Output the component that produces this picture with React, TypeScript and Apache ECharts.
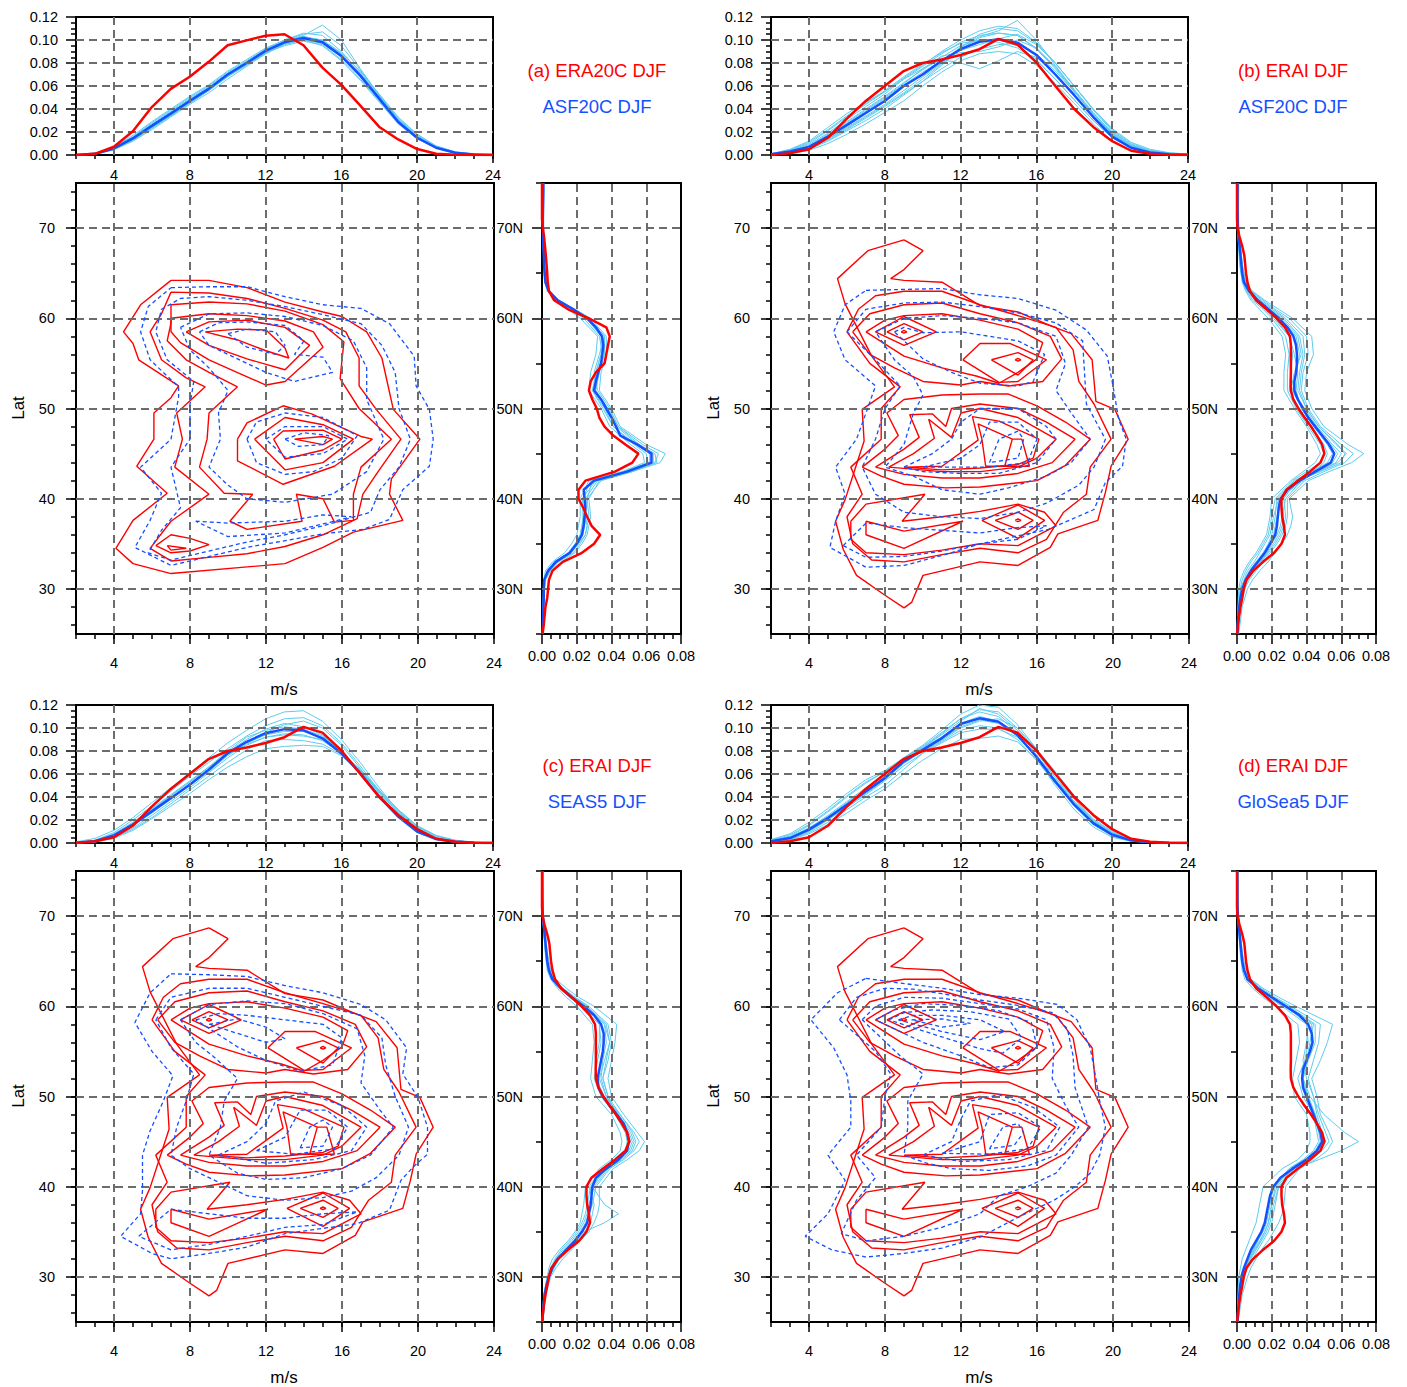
import React, { useEffect, useRef } from "react";
import * as echarts from "echarts";

// ---------- axes / categories ----------
const SPEED = [2, 3, 4, 5, 6, 7, 8, 9, 10, 11, 12, 13, 14, 15, 16, 17, 18, 19, 20, 21, 22, 23, 24];
const SPEED_MAJOR = [4, 8, 12, 16, 20, 24];
const SPEED_GRID = [4, 8, 12, 16, 20];
const PDF_GRID = [0.02, 0.04, 0.06, 0.08, 0.1];
const LAT = [25, 26, 27, 28, 29, 30, 31, 32, 33, 34, 35, 36, 37, 38, 39, 40, 41, 42, 43, 44, 45, 46, 47, 48, 49, 50,
  51, 52, 53, 54, 55, 56, 57, 58, 59, 60, 61, 62, 63, 64, 65, 66, 67, 68, 69, 70, 71, 72, 73, 74, 75];
const LAT_MAJOR = [30, 40, 50, 60, 70];
const LAT_MINOR_MAIN = [26, 28, 30, 32, 34, 36, 38, 40, 42, 44, 46, 48, 50, 52, 54, 56, 58, 60, 62, 64, 66, 68, 70, 72, 74];
const LAT_MINOR_SIDE = [25, 35, 45, 55, 65, 75];
const LATPDF_GRID = [0.02, 0.04, 0.06];
const LATM = [25, 28, 30, 31, 32, 33, 34, 35, 36, 37, 38, 40, 42, 43, 44, 45, 46, 48, 50, 52, 54, 56, 58, 60, 61, 62, 63, 64, 66, 70, 75];

// ---------- wind-speed PDFs (x = SPEED) ----------
const TOP_ERA20C = [0, 0.001, 0.0072, 0.0207, 0.0417, 0.0575, 0.068, 0.081, 0.0954, 0.0997, 0.1037, 0.105, 0.0954, 0.076, 0.061, 0.043, 0.0244, 0.0135, 0.0052, 0.0011, 0.0002, 0, 0];
const TOP_ERAI = [0, 0.0015, 0.005, 0.015, 0.0316, 0.047, 0.06, 0.073, 0.08, 0.083, 0.087, 0.092, 0.101, 0.096, 0.0805, 0.06, 0.04, 0.0244, 0.012, 0.0037, 0.001, 0.0003, 0];
const TOP_MEAN_A = [0, 0.001, 0.0057, 0.0144, 0.0253, 0.036, 0.047, 0.0575, 0.07, 0.08, 0.0905, 0.098, 0.1017, 0.098, 0.086, 0.069, 0.049, 0.0287, 0.015, 0.0063, 0.002, 0.0005, 0.0001];
const TOP_MEAN_B = [0.0006, 0.003, 0.007, 0.016, 0.026, 0.0365, 0.047, 0.06, 0.07, 0.082, 0.092, 0.0985, 0.1006, 0.0977, 0.087, 0.07, 0.052, 0.033, 0.016, 0.0063, 0.0022, 0.0007, 0.0002];
const TOP_MEAN_C = [0.0003, 0.0015, 0.0066, 0.016, 0.0275, 0.039, 0.0506, 0.0636, 0.078, 0.088, 0.0955, 0.099, 0.098, 0.091, 0.078, 0.0607, 0.04, 0.023, 0.01, 0.0035, 0.001, 0.0003, 0];
const TOP_MEAN_D = [0.0015, 0.0043, 0.0116, 0.0217, 0.0333, 0.0448, 0.0564, 0.0708, 0.081, 0.091, 0.1035, 0.1084, 0.1055, 0.094, 0.075, 0.0535, 0.0333, 0.0173, 0.0072, 0.0023, 0.0006, 0.0001, 0];
const TOP_MEM_A = [
  [0, 0.0015, 0.007, 0.017, 0.029, 0.04, 0.051, 0.061, 0.073, 0.083, 0.093, 0.1, 0.103, 0.099, 0.087, 0.07, 0.05, 0.03, 0.016, 0.007, 0.0025, 0.0007, 0.0002],
  [0, 0.0008, 0.0045, 0.012, 0.022, 0.033, 0.044, 0.054, 0.066, 0.077, 0.088, 0.096, 0.1, 0.097, 0.085, 0.068, 0.048, 0.028, 0.014, 0.0058, 0.0018, 0.0004, 0.0001],
  [0, 0.001, 0.0055, 0.014, 0.025, 0.036, 0.046, 0.056, 0.068, 0.079, 0.091, 0.099, 0.104, 0.113, 0.1, 0.075, 0.052, 0.031, 0.017, 0.007, 0.0025, 0.0006, 0.0001],
  [0, 0.0012, 0.006, 0.015, 0.026, 0.037, 0.048, 0.059, 0.071, 0.081, 0.089, 0.095, 0.099, 0.096, 0.083, 0.066, 0.047, 0.028, 0.015, 0.0065, 0.0022, 0.0006, 0.0001],
  [0, 0.0009, 0.005, 0.013, 0.024, 0.035, 0.046, 0.057, 0.07, 0.081, 0.092, 0.1, 0.106, 0.104, 0.09, 0.072, 0.052, 0.032, 0.018, 0.0075, 0.0025, 0.0007, 0.0002],
  [0, 0.0011, 0.0062, 0.0155, 0.027, 0.038, 0.049, 0.059, 0.07, 0.079, 0.088, 0.097, 0.102, 0.1, 0.088, 0.071, 0.051, 0.03, 0.0155, 0.0065, 0.002, 0.0005, 0.0001],
  [0, 0.0013, 0.0068, 0.016, 0.028, 0.039, 0.05, 0.06, 0.072, 0.082, 0.092, 0.099, 0.103, 0.1, 0.089, 0.073, 0.053, 0.033, 0.018, 0.008, 0.0028, 0.0008, 0.0002],
  [0, 0.0007, 0.0048, 0.0128, 0.023, 0.034, 0.045, 0.056, 0.068, 0.078, 0.089, 0.097, 0.101, 0.099, 0.088, 0.07, 0.05, 0.029, 0.015, 0.0062, 0.002, 0.0005, 0.0001],
  [0, 0.001, 0.0058, 0.0148, 0.026, 0.037, 0.048, 0.058, 0.069, 0.079, 0.09, 0.1, 0.105, 0.107, 0.095, 0.074, 0.052, 0.031, 0.016, 0.0068, 0.0022, 0.0006, 0.0001],
  [0, 0.0009, 0.0052, 0.0135, 0.024, 0.034, 0.045, 0.056, 0.069, 0.08, 0.091, 0.097, 0.1, 0.095, 0.082, 0.065, 0.046, 0.027, 0.014, 0.006, 0.0019, 0.0005, 0.0001],
];
const TOP_MEM_B = [
  [0.001, 0.004, 0.01, 0.021, 0.033, 0.044, 0.055, 0.067, 0.078, 0.09, 0.1, 0.108, 0.112, 0.11, 0.098, 0.08, 0.06, 0.04, 0.022, 0.01, 0.004, 0.0015, 0.0005],
  [0.0003, 0.0015, 0.004, 0.01, 0.018, 0.027, 0.037, 0.047, 0.06, 0.072, 0.082, 0.088, 0.09, 0.088, 0.078, 0.062, 0.045, 0.027, 0.012, 0.004, 0.001, 0.0003, 0],
  [0.0005, 0.002, 0.006, 0.014, 0.024, 0.034, 0.044, 0.056, 0.068, 0.08, 0.094, 0.103, 0.108, 0.117, 0.1, 0.078, 0.056, 0.035, 0.018, 0.007, 0.0025, 0.0008, 0.0002],
  [0.001, 0.005, 0.012, 0.024, 0.036, 0.046, 0.055, 0.066, 0.075, 0.083, 0.08, 0.075, 0.082, 0.09, 0.085, 0.07, 0.052, 0.033, 0.017, 0.007, 0.0025, 0.0007, 0.0002],
  [0.0004, 0.0015, 0.005, 0.012, 0.021, 0.03, 0.04, 0.052, 0.064, 0.078, 0.092, 0.102, 0.106, 0.104, 0.093, 0.076, 0.056, 0.036, 0.02, 0.009, 0.004, 0.0018, 0.0008],
  [0.0008, 0.003, 0.008, 0.018, 0.029, 0.04, 0.051, 0.063, 0.074, 0.085, 0.095, 0.1, 0.098, 0.093, 0.082, 0.066, 0.048, 0.03, 0.015, 0.0055, 0.0018, 0.0005, 0.0001],
  [0.0006, 0.0025, 0.007, 0.016, 0.027, 0.038, 0.049, 0.061, 0.072, 0.082, 0.091, 0.096, 0.101, 0.105, 0.096, 0.08, 0.06, 0.039, 0.021, 0.009, 0.003, 0.001, 0.0003],
  [0.0007, 0.0035, 0.009, 0.019, 0.031, 0.042, 0.053, 0.066, 0.077, 0.088, 0.098, 0.104, 0.106, 0.104, 0.092, 0.075, 0.055, 0.035, 0.018, 0.008, 0.003, 0.001, 0.0003],
  [0.0004, 0.002, 0.0055, 0.013, 0.022, 0.032, 0.042, 0.053, 0.064, 0.075, 0.085, 0.092, 0.096, 0.097, 0.088, 0.073, 0.055, 0.036, 0.019, 0.008, 0.003, 0.001, 0.0003],
  [0.0009, 0.0045, 0.011, 0.022, 0.034, 0.045, 0.056, 0.068, 0.079, 0.089, 0.097, 0.1, 0.1, 0.095, 0.083, 0.066, 0.048, 0.03, 0.015, 0.006, 0.002, 0.0006, 0.0001],
  [0.0005, 0.002, 0.006, 0.014, 0.023, 0.033, 0.043, 0.054, 0.066, 0.079, 0.093, 0.105, 0.11, 0.108, 0.097, 0.08, 0.06, 0.04, 0.023, 0.011, 0.005, 0.002, 0.0008],
  [0.0006, 0.0028, 0.0075, 0.017, 0.028, 0.039, 0.05, 0.062, 0.075, 0.086, 0.089, 0.09, 0.094, 0.1, 0.093, 0.077, 0.057, 0.037, 0.019, 0.008, 0.0028, 0.0009, 0.0003],
];
const TOP_MEM_C = [
  [0.001, 0.004, 0.011, 0.022, 0.035, 0.048, 0.061, 0.074, 0.087, 0.098, 0.108, 0.114, 0.115, 0.106, 0.09, 0.07, 0.048, 0.028, 0.013, 0.005, 0.0015, 0.0004, 0.0001],
  [0, 0.0008, 0.004, 0.011, 0.021, 0.032, 0.043, 0.055, 0.066, 0.075, 0.082, 0.084, 0.085, 0.084, 0.076, 0.062, 0.044, 0.027, 0.013, 0.005, 0.0015, 0.0004, 0.0001],
  [0.0005, 0.002, 0.008, 0.018, 0.03, 0.042, 0.054, 0.066, 0.077, 0.087, 0.096, 0.103, 0.106, 0.1, 0.085, 0.065, 0.043, 0.024, 0.011, 0.004, 0.001, 0.0003, 0],
  [0.0002, 0.001, 0.005, 0.013, 0.024, 0.036, 0.048, 0.061, 0.074, 0.085, 0.092, 0.095, 0.094, 0.089, 0.078, 0.063, 0.045, 0.028, 0.014, 0.006, 0.002, 0.0006, 0.0001],
  [0.0004, 0.002, 0.007, 0.017, 0.029, 0.041, 0.053, 0.065, 0.079, 0.09, 0.099, 0.104, 0.101, 0.094, 0.08, 0.062, 0.041, 0.022, 0.009, 0.003, 0.0008, 0.0002, 0],
  [0.0003, 0.0012, 0.006, 0.015, 0.026, 0.038, 0.05, 0.062, 0.076, 0.086, 0.092, 0.094, 0.093, 0.09, 0.079, 0.064, 0.046, 0.029, 0.015, 0.0065, 0.0025, 0.0008, 0.0002],
  [0.0006, 0.0025, 0.009, 0.02, 0.032, 0.045, 0.058, 0.07, 0.082, 0.093, 0.102, 0.108, 0.109, 0.102, 0.087, 0.067, 0.045, 0.026, 0.012, 0.0045, 0.0012, 0.0003, 0],
  [0.0002, 0.001, 0.0045, 0.012, 0.022, 0.034, 0.046, 0.058, 0.07, 0.081, 0.089, 0.09, 0.089, 0.086, 0.077, 0.063, 0.046, 0.029, 0.015, 0.0065, 0.0022, 0.0006, 0.0001],
  [0.0004, 0.0018, 0.0075, 0.017, 0.029, 0.041, 0.053, 0.066, 0.08, 0.092, 0.098, 0.101, 0.099, 0.093, 0.08, 0.062, 0.042, 0.024, 0.011, 0.004, 0.0012, 0.0003, 0],
  [0.0003, 0.0014, 0.006, 0.0155, 0.027, 0.039, 0.051, 0.064, 0.077, 0.087, 0.094, 0.097, 0.097, 0.092, 0.08, 0.063, 0.044, 0.026, 0.012, 0.0045, 0.0014, 0.0004, 0],
];
const TOP_MEM_D = [
  [0.003, 0.008, 0.018, 0.03, 0.043, 0.055, 0.063, 0.074, 0.085, 0.098, 0.112, 0.12, 0.118, 0.103, 0.082, 0.06, 0.038, 0.02, 0.009, 0.003, 0.0008, 0.0002, 0],
  [0.0008, 0.0025, 0.008, 0.016, 0.026, 0.037, 0.047, 0.06, 0.072, 0.082, 0.09, 0.091, 0.093, 0.088, 0.073, 0.055, 0.036, 0.02, 0.009, 0.003, 0.0008, 0.0002, 0],
  [0.002, 0.006, 0.015, 0.027, 0.04, 0.052, 0.062, 0.072, 0.083, 0.095, 0.108, 0.114, 0.11, 0.096, 0.074, 0.05, 0.029, 0.014, 0.005, 0.0015, 0.0004, 0.0001, 0],
  [0.001, 0.003, 0.009, 0.018, 0.029, 0.04, 0.05, 0.064, 0.078, 0.089, 0.1, 0.106, 0.108, 0.1, 0.082, 0.062, 0.041, 0.023, 0.011, 0.004, 0.001, 0.0003, 0],
  [0.0015, 0.004, 0.011, 0.021, 0.033, 0.045, 0.058, 0.071, 0.08, 0.088, 0.098, 0.102, 0.1, 0.09, 0.072, 0.052, 0.033, 0.018, 0.008, 0.003, 0.0008, 0.0002, 0],
  [0.002, 0.005, 0.013, 0.024, 0.036, 0.048, 0.059, 0.073, 0.083, 0.094, 0.106, 0.117, 0.112, 0.098, 0.077, 0.054, 0.033, 0.016, 0.006, 0.002, 0.0005, 0.0001, 0],
  [0.0025, 0.007, 0.016, 0.028, 0.041, 0.053, 0.062, 0.074, 0.084, 0.096, 0.108, 0.116, 0.114, 0.1, 0.079, 0.057, 0.036, 0.019, 0.008, 0.0028, 0.0008, 0.0002, 0],
  [0.001, 0.0035, 0.01, 0.02, 0.031, 0.042, 0.054, 0.067, 0.078, 0.087, 0.096, 0.099, 0.099, 0.092, 0.076, 0.057, 0.038, 0.021, 0.01, 0.0035, 0.001, 0.0002, 0],
  [0.0018, 0.005, 0.013, 0.023, 0.035, 0.047, 0.06, 0.074, 0.083, 0.092, 0.104, 0.11, 0.106, 0.094, 0.074, 0.052, 0.032, 0.016, 0.007, 0.0022, 0.0006, 0.0001, 0],
  [0.0012, 0.0038, 0.0105, 0.02, 0.032, 0.043, 0.055, 0.069, 0.08, 0.09, 0.101, 0.107, 0.104, 0.093, 0.075, 0.055, 0.035, 0.019, 0.0085, 0.003, 0.0008, 0.0002, 0],
];

// ---------- latitude PDFs (y = LAT) ----------
const RIGHT_ERA20C = [0.0003, 0.001, 0.0015, 0.002, 0.003, 0.0035, 0.004, 0.006, 0.012, 0.023, 0.03, 0.0335, 0.0285, 0.026, 0.0237, 0.021, 0.021, 0.025, 0.042, 0.052, 0.0555, 0.048, 0.041, 0.036, 0.033, 0.0315,
  0.029, 0.027, 0.028, 0.031, 0.036, 0.037, 0.038, 0.039, 0.037, 0.027, 0.015, 0.007, 0.004, 0.0033, 0.003, 0.0026, 0.0022, 0.0017, 0.0012, 0.0005, 0, 0, 0, 0, 0];
const RIGHT_ERAI = [0, 0.0006, 0.0012, 0.002, 0.003, 0.0039, 0.0054, 0.0093, 0.015, 0.0214, 0.0256, 0.0276, 0.027, 0.026, 0.0256, 0.0256, 0.0285, 0.035, 0.042, 0.048, 0.0503, 0.049, 0.046, 0.0426, 0.0388, 0.0353,
  0.0324, 0.031, 0.0309, 0.031, 0.031, 0.031, 0.031, 0.0305, 0.0276, 0.0228, 0.017, 0.011, 0.0075, 0.006, 0.0052, 0.0047, 0.0042, 0.003, 0.0015, 0.0003, 0, 0, 0, 0, 0];
const RIGHT_MEAN_A = [0.0003, 0.0005, 0.0007, 0.0008, 0.001, 0.001, 0.0013, 0.0035, 0.008, 0.016, 0.02, 0.023, 0.024, 0.0245, 0.025, 0.0245, 0.024, 0.03, 0.049, 0.063, 0.063, 0.055, 0.045, 0.0426, 0.04, 0.037,
  0.034, 0.03, 0.031, 0.0324, 0.034, 0.0347, 0.0353, 0.0345, 0.031, 0.026, 0.018, 0.009, 0.004, 0.002, 0.0015, 0.0012, 0.001, 0.0008, 0.0006, 0.0005, 0.0005, 0.0006, 0.0007, 0.0008, 0.0008];
const RIGHT_MEAN_B = [0.0003, 0.0004, 0.0008, 0.0013, 0.002, 0.003, 0.005, 0.008, 0.012, 0.016, 0.019, 0.022, 0.023, 0.0235, 0.024, 0.025, 0.029, 0.036, 0.045, 0.054, 0.056, 0.053, 0.049, 0.045, 0.041, 0.038,
  0.035, 0.033, 0.033, 0.034, 0.0345, 0.0345, 0.034, 0.0325, 0.029, 0.024, 0.018, 0.012, 0.007, 0.004, 0.003, 0.0025, 0.002, 0.0015, 0.001, 0.0005, 0.0004, 0.0003, 0.0003, 0.0003, 0.0003];
const RIGHT_MEAN_C = [0.0003, 0.0005, 0.001, 0.0015, 0.0025, 0.004, 0.006, 0.009, 0.014, 0.019, 0.023, 0.026, 0.027, 0.028, 0.0285, 0.029, 0.031, 0.037, 0.044, 0.049, 0.05, 0.049, 0.047, 0.043, 0.039, 0.035,
  0.0325, 0.032, 0.033, 0.034, 0.035, 0.0355, 0.0355, 0.034, 0.03, 0.024, 0.017, 0.011, 0.006, 0.004, 0.003, 0.0025, 0.002, 0.0015, 0.001, 0.0005, 0.0003, 0.0002, 0.0002, 0.0002, 0.0002];
const RIGHT_MEAN_D = [0.0003, 0.0006, 0.001, 0.0013, 0.0018, 0.0025, 0.004, 0.006, 0.008, 0.011, 0.014, 0.016, 0.017, 0.018, 0.019, 0.021, 0.025, 0.032, 0.04, 0.046, 0.049, 0.048, 0.046, 0.044, 0.042, 0.04,
  0.038, 0.0375, 0.038, 0.04, 0.042, 0.0435, 0.043, 0.041, 0.036, 0.028, 0.02, 0.012, 0.006, 0.004, 0.003, 0.0025, 0.002, 0.0015, 0.001, 0.0005, 0.0003, 0.0002, 0.0002, 0.0002, 0.0002];
const RIGHT_MEM_A = [
  [0.0005, 0.001, 0.0015, 0.002, 0.005, 0.011, 0.019, 0.023, 0.026, 0.027, 0.028, 0.027, 0.033, 0.052, 0.068, 0.071, 0.06, 0.045, 0.04, 0.033, 0.034, 0.037, 0.037, 0.028, 0.019, 0.01, 0.004, 0.0025, 0.0015, 0.0007, 0.001],
  [0.0002, 0.0005, 0.0008, 0.001, 0.002, 0.006, 0.013, 0.017, 0.02, 0.021, 0.022, 0.022, 0.027, 0.046, 0.059, 0.058, 0.051, 0.039, 0.034, 0.027, 0.028, 0.031, 0.032, 0.022, 0.015, 0.008, 0.003, 0.0015, 0.001, 0.0004, 0.0006],
  [0.0004, 0.0009, 0.0012, 0.0015, 0.004, 0.009, 0.017, 0.021, 0.025, 0.026, 0.025, 0.023, 0.031, 0.05, 0.066, 0.065, 0.056, 0.044, 0.039, 0.032, 0.03, 0.033, 0.036, 0.027, 0.018, 0.0095, 0.0038, 0.002, 0.0013, 0.0006, 0.0009],
  [0.0003, 0.0007, 0.001, 0.0012, 0.003, 0.007, 0.015, 0.019, 0.022, 0.023, 0.024, 0.026, 0.029, 0.047, 0.061, 0.06, 0.053, 0.041, 0.035, 0.029, 0.032, 0.035, 0.033, 0.024, 0.016, 0.0085, 0.0032, 0.0018, 0.0011, 0.0005, 0.0007],
  [0.0004, 0.0008, 0.0011, 0.0014, 0.0045, 0.0095, 0.018, 0.022, 0.025, 0.026, 0.027, 0.026, 0.034, 0.052, 0.065, 0.067, 0.058, 0.044, 0.038, 0.031, 0.033, 0.036, 0.036, 0.027, 0.0185, 0.0095, 0.0038, 0.002, 0.0013, 0.0006, 0.0008],
  [0.0003, 0.0007, 0.0009, 0.0011, 0.003, 0.0075, 0.0155, 0.0195, 0.022, 0.023, 0.0235, 0.0235, 0.028, 0.047, 0.062, 0.062, 0.054, 0.041, 0.036, 0.029, 0.031, 0.034, 0.034, 0.0255, 0.0172, 0.009, 0.0035, 0.0019, 0.0012, 0.0005, 0.0008],
  [0.0003, 0.0008, 0.001, 0.0013, 0.0038, 0.0085, 0.0165, 0.0205, 0.0235, 0.0245, 0.0255, 0.025, 0.032, 0.05, 0.064, 0.064, 0.055, 0.043, 0.037, 0.03, 0.031, 0.034, 0.035, 0.026, 0.0175, 0.009, 0.0036, 0.002, 0.0012, 0.0005, 0.0008],
];
const RIGHT_MEM_B = [
  [0.001, 0.003, 0.006, 0.009, 0.013, 0.018, 0.022, 0.026, 0.029, 0.031, 0.032, 0.03, 0.041, 0.053, 0.066, 0.073, 0.064, 0.05, 0.043, 0.039, 0.04, 0.044, 0.043, 0.032, 0.024, 0.016, 0.009, 0.005, 0.003, 0.001, 0.0008],
  [0, 0.0005, 0.001, 0.002, 0.004, 0.007, 0.011, 0.014, 0.017, 0.018, 0.019, 0.02, 0.031, 0.038, 0.045, 0.048, 0.046, 0.04, 0.033, 0.027, 0.027, 0.028, 0.026, 0.018, 0.013, 0.008, 0.005, 0.003, 0.0015, 0.0003, 0],
  [0.0005, 0.002, 0.004, 0.006, 0.01, 0.014, 0.018, 0.022, 0.025, 0.027, 0.028, 0.027, 0.034, 0.048, 0.06, 0.062, 0.058, 0.047, 0.04, 0.035, 0.036, 0.038, 0.036, 0.027, 0.02, 0.013, 0.008, 0.0045, 0.0028, 0.0008, 0.001],
  [0.0002, 0.001, 0.002, 0.004, 0.006, 0.01, 0.013, 0.016, 0.019, 0.02, 0.021, 0.024, 0.038, 0.044, 0.05, 0.052, 0.05, 0.043, 0.036, 0.03, 0.031, 0.032, 0.03, 0.021, 0.016, 0.01, 0.006, 0.0035, 0.002, 0.0004, 0.0002],
  [0.0004, 0.0015, 0.0035, 0.0055, 0.009, 0.013, 0.017, 0.02, 0.023, 0.025, 0.026, 0.028, 0.037, 0.046, 0.057, 0.06, 0.055, 0.046, 0.039, 0.031, 0.033, 0.037, 0.035, 0.026, 0.019, 0.012, 0.0075, 0.004, 0.0025, 0.0006, 0.0005],
  [0.0002, 0.001, 0.0025, 0.0045, 0.007, 0.011, 0.015, 0.018, 0.02, 0.021, 0.022, 0.023, 0.033, 0.043, 0.052, 0.055, 0.052, 0.044, 0.037, 0.034, 0.035, 0.033, 0.03, 0.022, 0.017, 0.011, 0.0065, 0.0035, 0.002, 0.0004, 0.0003],
  [0.0006, 0.002, 0.0045, 0.007, 0.011, 0.015, 0.019, 0.023, 0.026, 0.028, 0.029, 0.029, 0.039, 0.05, 0.062, 0.067, 0.06, 0.048, 0.041, 0.037, 0.038, 0.041, 0.04, 0.03, 0.022, 0.015, 0.0085, 0.0048, 0.003, 0.0009, 0.0007],
  [0.0001, 0.0008, 0.0018, 0.003, 0.005, 0.008, 0.012, 0.015, 0.018, 0.019, 0.02, 0.022, 0.032, 0.04, 0.048, 0.05, 0.048, 0.041, 0.034, 0.029, 0.029, 0.03, 0.028, 0.02, 0.015, 0.009, 0.0055, 0.0032, 0.0018, 0.0003, 0.0001],
  [0.0003, 0.0012, 0.003, 0.005, 0.008, 0.012, 0.016, 0.019, 0.021, 0.022, 0.023, 0.026, 0.035, 0.045, 0.055, 0.058, 0.054, 0.045, 0.038, 0.032, 0.034, 0.036, 0.034, 0.025, 0.018, 0.012, 0.007, 0.004, 0.0024, 0.0005, 0.0004],
  [0.0004, 0.0016, 0.0038, 0.006, 0.0095, 0.0135, 0.0175, 0.021, 0.024, 0.026, 0.027, 0.025, 0.036, 0.047, 0.058, 0.063, 0.057, 0.047, 0.04, 0.036, 0.037, 0.039, 0.038, 0.028, 0.021, 0.014, 0.008, 0.0045, 0.0028, 0.0007, 0.0006],
];
const RIGHT_MEM_C = [
  [0.0005, 0.002, 0.005, 0.008, 0.012, 0.017, 0.022, 0.027, 0.03, 0.032, 0.033, 0.033, 0.041, 0.049, 0.056, 0.059, 0.055, 0.047, 0.04, 0.038, 0.04, 0.042, 0.043, 0.03, 0.021, 0.014, 0.008, 0.005, 0.003, 0.0008, 0.0004],
  [0.0001, 0.001, 0.003, 0.004, 0.006, 0.01, 0.015, 0.019, 0.022, 0.023, 0.024, 0.025, 0.033, 0.04, 0.045, 0.046, 0.045, 0.04, 0.031, 0.028, 0.029, 0.03, 0.029, 0.02, 0.014, 0.009, 0.005, 0.003, 0.0018, 0.0003, 0.0001],
  [0.0003, 0.0015, 0.004, 0.006, 0.009, 0.013, 0.018, 0.024, 0.036, 0.044, 0.036, 0.029, 0.036, 0.043, 0.05, 0.052, 0.05, 0.044, 0.037, 0.033, 0.036, 0.039, 0.036, 0.025, 0.018, 0.012, 0.0065, 0.004, 0.0025, 0.0005, 0.0002],
  [0.0002, 0.0012, 0.0035, 0.0055, 0.008, 0.012, 0.017, 0.021, 0.024, 0.026, 0.027, 0.03, 0.038, 0.046, 0.052, 0.054, 0.052, 0.045, 0.036, 0.031, 0.031, 0.033, 0.033, 0.023, 0.016, 0.01, 0.0055, 0.0035, 0.002, 0.0004, 0.0002],
  [0.0003, 0.0018, 0.0045, 0.007, 0.01, 0.015, 0.02, 0.025, 0.028, 0.029, 0.03, 0.027, 0.035, 0.042, 0.048, 0.051, 0.049, 0.043, 0.038, 0.035, 0.038, 0.04, 0.038, 0.027, 0.019, 0.012, 0.007, 0.0042, 0.0026, 0.0006, 0.0003],
  [0.0004, 0.0016, 0.0042, 0.0065, 0.0095, 0.014, 0.019, 0.023, 0.026, 0.027, 0.028, 0.029, 0.037, 0.045, 0.051, 0.053, 0.051, 0.044, 0.037, 0.034, 0.035, 0.037, 0.036, 0.026, 0.018, 0.011, 0.0065, 0.004, 0.0024, 0.0005, 0.0002],
  [0.0002, 0.001, 0.003, 0.005, 0.0075, 0.011, 0.016, 0.02, 0.023, 0.025, 0.026, 0.028, 0.035, 0.043, 0.048, 0.049, 0.048, 0.042, 0.034, 0.03, 0.032, 0.034, 0.033, 0.022, 0.016, 0.01, 0.0055, 0.0035, 0.002, 0.0004, 0.0002],
  [0.0003, 0.0014, 0.0038, 0.006, 0.009, 0.013, 0.018, 0.022, 0.025, 0.027, 0.029, 0.031, 0.039, 0.047, 0.053, 0.056, 0.053, 0.045, 0.038, 0.035, 0.037, 0.039, 0.037, 0.026, 0.019, 0.012, 0.007, 0.004, 0.0025, 0.0005, 0.0002],
];
const RIGHT_MEM_D = [
  [0.0006, 0.003, 0.006, 0.008, 0.011, 0.014, 0.018, 0.021, 0.024, 0.026, 0.027, 0.028, 0.036, 0.045, 0.052, 0.055, 0.053, 0.048, 0.046, 0.043, 0.048, 0.052, 0.055, 0.034, 0.024, 0.015, 0.008, 0.005, 0.003, 0.0008, 0.0005],
  [0.0001, 0.0005, 0.001, 0.002, 0.003, 0.005, 0.007, 0.009, 0.011, 0.012, 0.013, 0.015, 0.026, 0.035, 0.04, 0.042, 0.042, 0.04, 0.033, 0.032, 0.034, 0.036, 0.035, 0.022, 0.015, 0.009, 0.0045, 0.003, 0.0018, 0.0003, 0.0001],
  [0.0004, 0.002, 0.004, 0.006, 0.008, 0.011, 0.014, 0.017, 0.019, 0.02, 0.021, 0.024, 0.034, 0.047, 0.06, 0.07, 0.062, 0.05, 0.042, 0.038, 0.041, 0.045, 0.045, 0.03, 0.021, 0.013, 0.007, 0.0045, 0.0028, 0.0006, 0.0003],
  [0.0002, 0.001, 0.0025, 0.004, 0.006, 0.009, 0.012, 0.014, 0.016, 0.017, 0.018, 0.02, 0.03, 0.038, 0.044, 0.047, 0.046, 0.044, 0.038, 0.035, 0.039, 0.041, 0.04, 0.026, 0.018, 0.011, 0.006, 0.0038, 0.0023, 0.0004, 0.0002],
  [0.0003, 0.0015, 0.0035, 0.005, 0.007, 0.01, 0.013, 0.016, 0.018, 0.019, 0.02, 0.022, 0.031, 0.04, 0.046, 0.051, 0.049, 0.046, 0.044, 0.04, 0.038, 0.04, 0.041, 0.028, 0.02, 0.012, 0.0065, 0.004, 0.0025, 0.0005, 0.0003],
  [0.0004, 0.0018, 0.004, 0.006, 0.009, 0.012, 0.015, 0.018, 0.02, 0.021, 0.022, 0.024, 0.033, 0.043, 0.049, 0.053, 0.051, 0.047, 0.044, 0.041, 0.044, 0.047, 0.048, 0.031, 0.022, 0.014, 0.0075, 0.0045, 0.0027, 0.0006, 0.0003],
  [0.0002, 0.0012, 0.003, 0.0045, 0.0065, 0.0095, 0.012, 0.015, 0.017, 0.018, 0.019, 0.021, 0.03, 0.039, 0.045, 0.048, 0.047, 0.045, 0.041, 0.037, 0.04, 0.043, 0.043, 0.027, 0.019, 0.012, 0.0065, 0.004, 0.0024, 0.0005, 0.0002],
  [0.0003, 0.0015, 0.0035, 0.005, 0.0075, 0.0105, 0.0135, 0.016, 0.018, 0.019, 0.02, 0.023, 0.032, 0.041, 0.047, 0.05, 0.048, 0.045, 0.041, 0.038, 0.04, 0.042, 0.044, 0.029, 0.02, 0.013, 0.007, 0.0042, 0.0025, 0.0005, 0.0003],
];

// ---------- joint PDF contours: [wind speed m/s, latitude] ----------
const CONT_ERA20C = [
  [[7.0, 64.2], [9.0, 64.2], [11.0, 63.4], [13.0, 61.8], [15.0, 60.7], [16.0, 60.2], [17.3, 58.5], [18.1, 55.6], [18.7, 49.9], [20.1, 46.6], [18.6, 42.2], [18.5, 40.5], [19.2, 37.6], [16.6, 36.3], [15.0, 34.6], [13.0, 32.8], [7.0, 31.7], [5.0, 32.8], [4.1, 34.5], [5.0, 37.6], [6.8, 40.6], [5.2, 43.6], [6.1, 46.6], [6.1, 49.5], [7.0, 51.2], [7.4, 52.5], [5.3, 55.4], [5.0, 57.2], [4.5, 58.5], [5.4, 61.5], [7.0, 64.2]],
  [[7.0, 62.9], [9.0, 62.8], [11.0, 62.2], [13.0, 61.1], [15.0, 59.8], [16.2, 58.5], [16.9, 55.6], [16.9, 52.5], [17.8, 49.9], [19.1, 46.6], [17.9, 43.0], [17.1, 40.5], [16.8, 37.8], [15.0, 36.0], [13.0, 34.7], [11.0, 33.9], [9.0, 33.5], [7.0, 33.1], [5.9, 34.5], [7.0, 37.5], [9.0, 40.5], [7.2, 43.5], [7.6, 46.6], [7.3, 49.5], [8.8, 52.4], [7.8, 53.4], [6.5, 55.4], [5.9, 58.5], [6.5, 60.5], [7.0, 62.9]],
  [[7.0, 61.5], [9.0, 61.8], [11.0, 61.6], [13.0, 60.8], [15.0, 59.3], [16.1, 57.4], [15.9, 53.3], [16.9, 50.0], [18.6, 46.6], [17.0, 43.5], [16.6, 40.5], [16.6, 37.6], [15.6, 37.4], [15.0, 40.0], [13.6, 40.5], [13.9, 37.5], [11.0, 36.6], [10.1, 37.5], [11.3, 40.5], [9.8, 40.6], [8.5, 43.5], [8.9, 46.6], [9.0, 49.5], [10.5, 52.4], [9.0, 54.0], [7.8, 55.4], [6.8, 57.5], [7.0, 59.5], [7.0, 61.5]],
  [[7.0, 60.0], [9.0, 60.5], [11.0, 60.3], [13.0, 59.7], [14.5, 58.5], [15.0, 56.8], [13.0, 53.0], [12.0, 52.6], [10.8, 53.7], [9.0, 55.4], [7.5, 57.3], [7.0, 58.5], [7.0, 60.0]],
  [[7.8, 58.5], [9.0, 59.6], [11.0, 59.8], [13.0, 59.0], [14.3, 57.0], [13.0, 54.3], [11.0, 55.5], [9.0, 57.0], [7.8, 58.5]],
  [[8.8, 58.5], [10.5, 58.8], [12.0, 58.7], [13.0, 56.7], [13.2, 55.6], [12.0, 56.4], [10.5, 57.6], [8.8, 58.5]],
  [[10.5, 46.6], [11.0, 48.4], [12.9, 50.3], [14.4, 49.4], [17.0, 46.9], [17.6, 46.6], [15.6, 43.6], [12.9, 41.6], [10.5, 44.2], [10.5, 46.6]],
  [[11.4, 46.6], [13.0, 49.0], [15.0, 48.2], [16.6, 46.6], [15.0, 44.0], [13.0, 43.2], [11.4, 46.6]],
  [[12.4, 46.6], [12.9, 47.5], [15.0, 47.6], [16.0, 46.6], [15.0, 45.4], [13.0, 44.4], [12.4, 46.6]],
  [[13.5, 46.6], [15.0, 46.9], [15.5, 46.6], [15.0, 46.0], [13.5, 46.6]],
  [[6.2, 34.8], [7.0, 36.0], [8.0, 35.6], [9.0, 34.9], [8.0, 34.2], [7.0, 34.0], [6.2, 34.8]],
  [[6.8, 34.8], [7.8, 34.5], [7.0, 34.3], [6.8, 34.8]],
];
const CONT_ERAI = [
  [[9.0, 68.7], [10.0, 67.5], [9.0, 65.4], [8.3, 64.4], [9.0, 64.2], [11.0, 64.0], [13.0, 61.4], [15.0, 60.7], [16.8, 59.1], [17.8, 58.3], [18.9, 55.4], [19.1, 50.8], [20.1, 49.9], [20.8, 46.6], [19.9, 43.6], [19.6, 40.7], [19.2, 37.6], [17.1, 36.1], [16.7, 34.6], [15.0, 32.6], [13.0, 33.0], [10.0, 31.5], [9.4, 28.5], [9.0, 27.9], [8.0, 29.3], [6.5, 31.5], [5.8, 34.4], [5.4, 37.5], [5.9, 39.9], [6.5, 43.8], [6.9, 46.4], [6.8, 49.9], [8.5, 52.4], [7.3, 55.8], [5.9, 61.6], [5.5, 64.4], [7.1, 67.5], [9.0, 68.7]],
  [[6.0, 58.5], [6.6, 61.0], [7.5, 62.5], [9.0, 63.0], [11.0, 63.0], [13.0, 61.5], [15.0, 60.3], [17.0, 59.0], [17.9, 56.5], [18.2, 53.0], [19.0, 50.5], [19.9, 46.6], [18.8, 43.5], [18.6, 40.5], [17.4, 38.5], [16.5, 35.5], [15.0, 34.0], [13.0, 34.5], [11.0, 33.8], [9.0, 33.0], [7.3, 33.2], [6.3, 35.0], [6.0, 38.0], [6.8, 40.5], [6.2, 43.5], [7.8, 46.6], [7.8, 50.0], [8.8, 52.4], [7.2, 55.0], [6.0, 58.5]],
  [[6.3, 58.5], [7.2, 60.5], [9.0, 61.5], [11.0, 61.7], [13.0, 60.5], [15.0, 59.5], [16.7, 58.0], [17.3, 55.5], [16.3, 53.0], [14.5, 52.5], [13.0, 53.0], [12.0, 52.6], [10.0, 53.0], [8.5, 54.5], [7.2, 56.0], [6.3, 58.5]],
  [[7.0, 58.5], [8.0, 59.8], [9.0, 60.3], [11.0, 60.5], [13.0, 59.8], [15.0, 58.8], [16.3, 57.3], [16.0, 55.5], [15.0, 54.0], [14.0, 52.8], [12.8, 53.6], [11.0, 54.5], [9.0, 55.8], [7.0, 58.5]],
  [[7.5, 58.5], [9.0, 60.2], [10.7, 58.5], [9.0, 57.0], [7.5, 58.5]],
  [[8.1, 58.5], [9.0, 59.4], [10.0, 58.5], [9.0, 57.6], [8.1, 58.5]],
  [[8.85, 58.5], [9.0, 58.65], [9.15, 58.5], [9.0, 58.35], [8.85, 58.5]],
  [[12.1, 55.4], [13.0, 57.2], [14.6, 57.2], [16.5, 55.4], [15.0, 53.0], [14.0, 52.9], [12.1, 55.4]],
  [[13.6, 55.4], [15.0, 56.2], [15.8, 55.4], [15.0, 53.7], [13.6, 55.4]],
  [[14.85, 55.4], [15.0, 55.55], [15.15, 55.4], [15.0, 55.25], [14.85, 55.4]],
  [[6.8, 43.5], [8.0, 45.5], [8.7, 47.0], [8.1, 49.5], [9.0, 51.0], [11.0, 51.5], [13.0, 51.6], [14.5, 51.6], [16.0, 50.3], [17.5, 48.5], [18.8, 46.6], [17.5, 43.7], [16.0, 42.0], [13.0, 41.3], [11.2, 41.2], [9.0, 41.6], [7.8, 42.5], [6.8, 43.5]],
  [[7.5, 43.5], [9.0, 45.5], [9.8, 46.8], [9.3, 49.3], [10.5, 49.4], [11.2, 48.0], [11.5, 50.0], [13.0, 50.5], [15.0, 50.0], [16.5, 48.5], [18.0, 46.6], [16.8, 44.0], [15.0, 42.8], [13.0, 42.3], [11.0, 42.3], [9.0, 42.7], [7.5, 43.5]],
  [[8.2, 43.5], [9.5, 45.0], [10.6, 46.7], [10.3, 48.8], [11.5, 46.8], [12.0, 49.5], [13.0, 50.0], [15.0, 49.0], [17.0, 46.6], [16.0, 44.5], [15.0, 43.5], [13.0, 43.0], [11.0, 43.0], [8.2, 43.5]],
  [[9.0, 43.5], [11.0, 43.6], [12.9, 46.5], [12.6, 49.1], [14.0, 48.6], [16.1, 46.6], [15.8, 44.5], [15.0, 43.8], [13.0, 43.4], [11.0, 43.2], [9.0, 43.5]],
  [[13.1, 46.6], [13.3, 43.6], [14.3, 43.6], [14.7, 46.6], [12.9, 48.3], [13.1, 46.6]],
  [[14.3, 43.6], [15.6, 43.6], [15.2, 46.6], [14.7, 46.6]],
  [[6.2, 37.5], [7.0, 39.4], [10.1, 40.5], [8.9, 37.5], [11.0, 38.0], [13.0, 38.6], [15.0, 39.4], [16.4, 38.5], [17.0, 37.0], [15.0, 34.8], [13.0, 35.0], [11.0, 34.3], [9.0, 33.8], [7.0, 34.0], [6.2, 35.5], [6.2, 37.5]],
  [[7.0, 37.5], [9.0, 36.4], [12.1, 37.5], [9.0, 34.5], [7.0, 36.0], [7.0, 37.5]],
  [[13.1, 37.6], [15.0, 39.3], [16.4, 37.6], [15.0, 35.6], [13.1, 37.6]],
  [[13.8, 37.6], [15.0, 38.5], [15.8, 37.6], [15.0, 36.6], [13.8, 37.6]],
  [[14.85, 37.6], [15.0, 37.75], [15.15, 37.6], [15.0, 37.45], [14.85, 37.6]],
];
const CONT_ASF20C_A = [
  [[7.0, 63.4], [9.0, 63.5], [11.0, 63.5], [13.0, 62.4], [15.0, 61.5], [17.0, 61.1], [18.5, 59.4], [19.8, 55.8], [19.9, 52.5], [20.6, 49.9], [20.8, 46.6], [20.6, 43.6], [19.2, 41.0], [18.5, 37.7], [17.1, 36.6], [15.0, 36.1], [11.0, 34.6], [7.0, 32.6], [5.1, 34.6], [5.9, 37.6], [6.5, 40.6], [5.4, 43.5], [7.0, 46.6], [7.4, 51.3], [7.4, 52.4], [5.9, 55.4], [5.4, 58.5], [5.8, 61.3], [7.0, 63.4]],
  [[6.5, 61.0], [7.5, 62.2], [9.0, 62.4], [11.0, 62.0], [13.0, 61.3], [15.0, 60.4], [17.0, 59.4], [18.1, 57.0], [18.8, 54.0], [19.0, 50.0], [19.6, 46.6], [19.0, 43.5], [18.0, 41.0], [17.5, 38.5], [15.0, 37.0], [13.0, 36.0], [11.0, 35.2], [9.0, 34.2], [7.0, 33.2], [5.8, 34.0], [6.5, 36.5], [7.5, 39.0], [7.0, 43.5], [8.0, 46.6], [8.0, 50.5], [8.2, 53.0], [6.8, 55.4], [6.2, 58.5], [6.5, 61.0]],
  [[7.5, 59.0], [9.0, 60.5], [11.0, 60.6], [13.0, 60.2], [15.0, 59.2], [16.6, 57.5], [17.3, 54.5], [17.3, 51.0], [18.2, 46.6], [17.3, 43.0], [15.5, 40.5], [13.0, 39.6], [11.0, 40.0], [10.0, 41.5], [9.0, 43.5], [9.6, 46.6], [9.5, 49.5], [10.0, 52.0], [9.0, 54.5], [8.0, 56.5], [7.5, 59.0]],
  [[8.3, 37.5], [10.0, 37.3], [13.0, 37.5], [15.0, 38.2], [16.5, 38.0], [15.0, 37.2], [13.0, 36.2], [10.0, 35.8], [8.3, 37.5]],
  [[8.5, 58.5], [9.5, 59.5], [11.0, 59.6], [13.0, 59.2], [14.0, 57.5], [13.5, 56.0], [15.0, 55.7], [15.5, 54.0], [13.5, 53.0], [12.0, 54.0], [10.5, 55.5], [9.0, 57.0], [8.5, 58.5]],
  [[11.0, 46.6], [11.5, 48.5], [13.0, 49.5], [15.0, 49.0], [16.8, 47.0], [16.0, 44.5], [14.5, 43.0], [13.0, 42.7], [11.5, 44.0], [11.0, 46.6]],
  [[10.0, 58.3], [11.0, 58.8], [12.5, 58.5], [13.0, 57.0], [12.5, 56.0], [11.0, 56.8], [10.0, 58.3]],
  [[12.0, 46.6], [13.0, 48.0], [15.0, 48.0], [16.3, 46.6], [15.0, 45.0], [13.0, 44.6], [12.0, 46.6]],
  [[13.0, 46.6], [14.0, 47.3], [15.3, 47.0], [15.0, 46.0], [13.7, 45.8], [13.0, 46.6]],
];
const CONT_ASF20C_B = [
  [[7.0, 63.1], [9.0, 63.2], [11.0, 63.3], [13.0, 62.6], [15.0, 62.2], [17.0, 60.9], [18.6, 58.7], [19.7, 55.8], [20.0, 52.5], [20.3, 48.8], [20.7, 46.6], [20.5, 43.6], [19.6, 41.8], [19.0, 38.8], [16.6, 36.6], [13.0, 35.0], [11.0, 33.7], [9.0, 32.6], [7.0, 32.4], [5.1, 34.6], [5.4, 37.5], [5.9, 40.5], [5.4, 43.5], [6.5, 46.6], [7.0, 49.5], [7.5, 52.5], [5.9, 55.4], [5.3, 58.5], [5.9, 61.5], [7.0, 63.1]],
  [[6.0, 58.5], [7.0, 61.0], [9.0, 61.7], [11.0, 61.8], [13.0, 61.3], [15.0, 60.6], [17.0, 59.5], [18.4, 57.5], [18.5, 54.0], [18.6, 50.5], [19.6, 46.6], [19.0, 43.5], [18.2, 41.5], [16.5, 39.5], [15.0, 38.5], [13.0, 37.8], [11.0, 38.0], [9.0, 38.5], [7.5, 40.5], [6.8, 43.5], [7.5, 46.6], [8.0, 50.0], [8.8, 52.5], [7.5, 55.4], [6.0, 58.5]],
  [[5.8, 34.8], [7.0, 37.3], [9.0, 36.8], [11.0, 36.5], [13.0, 36.2], [15.0, 36.8], [16.5, 37.0], [15.0, 35.5], [13.0, 35.0], [11.0, 34.2], [9.0, 33.6], [7.0, 33.5], [5.8, 34.8]],
  [[7.5, 58.5], [9.0, 60.0], [11.0, 60.3], [13.0, 60.0], [15.0, 59.5], [17.0, 58.0], [17.5, 55.0], [17.0, 52.0], [17.8, 49.5], [18.8, 46.6], [17.8, 44.0], [16.5, 42.5], [14.5, 41.2], [13.0, 40.5], [11.0, 41.0], [9.5, 42.5], [8.0, 43.5], [9.0, 46.0], [9.5, 49.5], [10.0, 51.5], [9.5, 53.5], [8.5, 55.4], [7.5, 58.5]],
  [[8.5, 58.5], [9.0, 59.0], [10.0, 58.4], [12.0, 58.5], [13.5, 58.0], [15.0, 57.5], [16.4, 56.0], [15.8, 53.0], [15.0, 52.5], [13.0, 52.8], [11.5, 54.0], [10.0, 55.5], [8.5, 58.5]],
  [[9.0, 43.5], [10.5, 45.0], [11.5, 46.6], [12.0, 48.5], [13.0, 50.0], [15.0, 50.0], [16.5, 48.0], [17.0, 46.6], [16.0, 44.0], [14.0, 42.8], [12.0, 42.8], [10.0, 43.0], [9.0, 43.5]],
  [[10.0, 43.5], [12.0, 44.5], [13.0, 46.0], [13.5, 48.5], [15.0, 48.5], [16.0, 46.6], [15.5, 44.0], [13.5, 43.5], [10.0, 43.5]],
  [[13.5, 44.0], [14.0, 46.6], [15.0, 47.5], [15.3, 46.6], [15.0, 44.5], [13.5, 44.0]],
];
const CONT_SEAS5 = [
  [[7.0, 63.6], [9.0, 63.5], [11.0, 63.3], [13.0, 62.3], [15.0, 61.5], [17.0, 60.2], [18.3, 58.5], [19.4, 55.4], [19.2, 52.5], [20.0, 49.9], [20.5, 46.6], [20.5, 43.6], [19.8, 42.3], [19.1, 40.7], [18.5, 37.4], [16.8, 35.9], [13.0, 34.8], [11.0, 33.3], [9.0, 32.6], [7.0, 32.0], [6.0, 32.6], [4.35, 34.5], [5.4, 37.0], [5.5, 39.6], [5.5, 43.5], [5.9, 46.2], [6.6, 49.5], [7.1, 52.3], [6.0, 55.0], [5.1, 58.2], [5.9, 61.5], [7.0, 63.6]],
  [[6.2, 58.5], [7.0, 61.0], [9.0, 62.0], [11.0, 62.0], [13.0, 61.0], [15.0, 60.0], [17.0, 59.0], [18.1, 56.5], [18.3, 53.5], [18.8, 50.0], [19.5, 46.6], [19.0, 43.5], [17.8, 41.0], [16.5, 39.5], [15.0, 38.8], [13.0, 38.5], [11.0, 39.0], [9.5, 40.5], [8.0, 42.0], [7.0, 43.5], [7.3, 46.6], [7.8, 49.5], [8.2, 52.5], [7.0, 55.4], [6.2, 58.5]],
  [[5.3, 34.5], [7.0, 37.5], [9.0, 37.0], [11.0, 36.5], [13.0, 36.5], [15.0, 37.0], [16.8, 37.2], [15.0, 35.8], [13.0, 35.5], [11.0, 34.5], [9.0, 33.6], [7.0, 33.0], [5.3, 34.5]],
  [[7.5, 58.5], [9.0, 60.2], [11.0, 60.6], [13.0, 60.3], [15.0, 59.2], [16.8, 57.5], [17.2, 54.5], [17.0, 51.5], [18.0, 48.5], [18.7, 46.6], [17.5, 43.5], [16.0, 42.0], [14.0, 41.0], [12.0, 40.8], [10.5, 41.5], [9.0, 43.5], [9.6, 46.6], [9.8, 49.5], [10.5, 52.0], [9.2, 54.5], [8.3, 56.0], [7.5, 58.5]],
  [[8.3, 58.5], [9.5, 59.2], [11.0, 59.0], [13.0, 58.5], [15.0, 58.0], [16.0, 56.5], [15.5, 53.5], [13.8, 52.8], [12.0, 54.0], [10.5, 55.5], [8.3, 58.5]],
  [[9.0, 58.0], [10.5, 58.6], [12.0, 57.7], [13.0, 56.4], [12.0, 56.0], [10.5, 57.0], [9.0, 58.0]],
  [[9.5, 43.5], [11.0, 45.0], [12.0, 47.0], [12.5, 49.5], [14.0, 50.5], [16.0, 49.0], [17.3, 46.6], [16.5, 44.0], [14.5, 43.0], [12.0, 42.6], [9.5, 43.5]],
  [[11.5, 44.0], [13.0, 45.5], [13.8, 48.5], [15.2, 48.5], [16.3, 46.6], [15.6, 44.2], [13.5, 43.6], [11.5, 44.0]],
  [[13.8, 44.3], [14.3, 46.6], [15.0, 47.4], [15.5, 46.6], [15.0, 44.5], [13.8, 44.3]],
];
const CONT_GLOSEA5 = [
  [[7.0, 63.1], [8.7, 62.6], [11.0, 62.0], [13.0, 61.3], [15.0, 60.9], [17.1, 60.2], [18.1, 58.5], [18.8, 55.4], [19.1, 52.0], [19.3, 49.5], [19.6, 46.6], [19.3, 43.5], [18.8, 41.5], [18.0, 40.0], [16.9, 38.5], [15.0, 36.6], [13.0, 34.4], [11.0, 33.2], [9.0, 32.6], [7.0, 32.2], [5.2, 33.0], [3.8, 34.5], [5.0, 37.0], [5.9, 40.7], [5.0, 43.5], [6.2, 46.6], [6.2, 49.5], [6.0, 52.4], [5.3, 55.4], [4.1, 58.5], [5.5, 61.5], [7.0, 63.1]],
  [[5.6, 58.5], [6.5, 61.0], [8.0, 62.0], [9.5, 61.9], [11.0, 61.4], [13.0, 60.7], [15.0, 60.1], [16.8, 59.3], [17.6, 57.5], [17.9, 54.5], [18.0, 51.0], [18.7, 46.6], [17.8, 43.5], [17.0, 41.5], [15.5, 40.0], [14.0, 39.0], [13.0, 37.0], [11.0, 35.5], [9.0, 34.5], [7.0, 34.0], [5.7, 34.8], [6.5, 38.5], [7.5, 41.0], [6.5, 43.5], [7.8, 46.6], [8.0, 50.0], [8.3, 52.5], [7.5, 55.0], [5.6, 58.5]],
  [[6.8, 58.5], [7.5, 60.0], [9.0, 61.0], [11.0, 60.9], [13.0, 60.3], [15.0, 59.7], [16.5, 58.5], [16.9, 55.4], [16.8, 52.0], [17.5, 49.0], [18.2, 46.6], [17.0, 43.5], [15.5, 42.3], [13.5, 41.8], [11.5, 42.0], [10.2, 42.6], [9.0, 43.5], [9.2, 46.6], [9.2, 49.5], [10.0, 52.5], [8.8, 54.5], [6.8, 58.5]],
  [[7.5, 58.5], [8.5, 59.6], [10.0, 60.3], [12.0, 60.1], [14.0, 59.5], [15.7, 58.2], [16.0, 55.5], [15.0, 53.5], [13.5, 53.2], [12.0, 54.5], [10.0, 56.0], [7.5, 58.5]],
  [[8.2, 58.5], [9.0, 59.3], [10.5, 59.6], [12.5, 59.4], [14.5, 58.6], [15.2, 56.5], [14.2, 54.8], [13.0, 55.3], [11.0, 56.6], [8.2, 58.5]],
  [[8.7, 58.5], [9.5, 59.0], [11.0, 59.0], [13.0, 58.5], [14.3, 57.2], [13.0, 56.3], [11.0, 57.2], [8.7, 58.5]],
  [[9.4, 58.5], [11.0, 58.6], [12.5, 58.1], [11.0, 57.7], [9.4, 58.5]],
  [[10.0, 43.5], [11.5, 45.0], [12.0, 47.5], [12.5, 49.5], [14.0, 50.2], [15.8, 48.8], [17.2, 46.6], [16.5, 44.0], [14.5, 43.0], [12.0, 42.8], [10.0, 43.5]],
  [[11.0, 43.7], [13.0, 45.0], [13.5, 48.0], [15.0, 48.2], [16.2, 46.6], [15.5, 44.2], [13.5, 43.6], [11.0, 43.7]],
  [[13.5, 44.2], [14.2, 46.6], [15.0, 47.0], [15.3, 46.0], [14.8, 44.6], [13.5, 44.2]],
];

// ---------- panel text ----------
const OBS_LABELS = ["(a) ERA20C DJF", "(b) ERAI DJF", "(c) ERAI DJF", "(d) ERAI DJF"];
const MODEL_LABELS = ["ASF20C DJF", "ASF20C DJF", "SEAS5 DJF", "GloSea5 DJF"];

// ---------- styles / layout ----------
const RED = "#ff0000";
const BLUE = "#1450ff";
const CYAN = "#5ecbef";
const GRIDC = "#6c6c6c";
const FONT = "Liberation Sans, Arial, Helvetica, sans-serif";

const PANELS = [
  { dx: 0, dy: 0, lx: 597, ly: 70, topRed: TOP_ERA20C, topMean: TOP_MEAN_A, topMem: TOP_MEM_A, rRed: RIGHT_ERA20C, rMean: RIGHT_MEAN_A, rMem: RIGHT_MEM_A, red: CONT_ERA20C, blue: CONT_ASF20C_A },
  { dx: 695, dy: 0, lx: 1293, ly: 70, topRed: TOP_ERAI, topMean: TOP_MEAN_B, topMem: TOP_MEM_B, rRed: RIGHT_ERAI, rMean: RIGHT_MEAN_B, rMem: RIGHT_MEM_B, red: CONT_ERAI, blue: CONT_ASF20C_B },
  { dx: 0, dy: 688, lx: 597, ly: 765, topRed: TOP_ERAI, topMean: TOP_MEAN_C, topMem: TOP_MEM_C, rRed: RIGHT_ERAI, rMean: RIGHT_MEAN_C, rMem: RIGHT_MEM_C, red: CONT_ERAI, blue: CONT_SEAS5 },
  { dx: 695, dy: 688, lx: 1293, ly: 765, topRed: TOP_ERAI, topMean: TOP_MEAN_D, topMem: TOP_MEM_D, rRed: RIGHT_ERAI, rMean: RIGHT_MEAN_D, rMem: RIGHT_MEM_D, red: CONT_ERAI, blue: CONT_GLOSEA5 },
];

const tickStyle = { color: "#000", width: 1.5 };
const labelStyle = (margin: number, extra: any = {}) => ({ color: "#000", fontFamily: FONT, fontSize: 14.5, margin, ...extra });

function buildOption() {
  const grid: any[] = [];
  const xAxis: any[] = [];
  const yAxis: any[] = [];
  const series: any[] = [];
  const graphic: any[] = [];

  const gridBox = (left: number, top: number, width: number, height: number) => ({
    left, top, width, height, show: true, borderColor: "#000", borderWidth: 2, backgroundColor: "transparent", containLabel: false,
  });

  const line = (g: number, data: any[], color: string, width: number, z: number, dash?: any) => ({
    type: "line", xAxisIndex: 2 * g, yAxisIndex: 2 * g, data, showSymbol: false, symbol: "none", silent: true, z,
    lineStyle: { color, width, type: dash || "solid" }, emphasis: { disabled: true }, animation: false,
  });

  const gridLines = (g: number, origin: number[], xs: number[], ys: number[]) => ({
    type: "line", xAxisIndex: 2 * g, yAxisIndex: 2 * g, data: [origin], showSymbol: false, symbol: "none", silent: true, z: 1,
    lineStyle: { opacity: 0 },
    markLine: {
      silent: true, symbol: ["none", "none"], label: { show: false }, animation: false, emphasis: { disabled: true },
      lineStyle: { color: GRIDC, width: 2, type: [8, 5] },
      data: [...xs.map((v) => ({ xAxis: v })), ...ys.map((v) => ({ yAxis: v }))],
    },
  });

  PANELS.forEach((p, pi) => {
    const gTop = pi * 3, gMain = pi * 3 + 1, gRight = pi * 3 + 2;
    grid.push(gridBox(76 + p.dx, 17 + p.dy, 417, 138));
    grid.push(gridBox(76 + p.dx, 183 + p.dy, 418, 451));
    grid.push(gridBox(542 + p.dx, 183 + p.dy, 139, 451));

    // --- top (wind speed PDF) axes
    xAxis.push({ gridIndex: gTop, type: "value", min: 2, max: 24, position: "bottom", axisLine: { show: false }, splitLine: { show: false },
      axisTick: { show: true, customValues: SPEED_MAJOR, length: 8, lineStyle: tickStyle }, axisLabel: { customValues: SPEED_MAJOR, ...labelStyle(12) } });
    xAxis.push({ gridIndex: gTop, type: "value", min: 2, max: 24, interval: 1, position: "bottom", axisLine: { show: false }, splitLine: { show: false },
      axisTick: { show: true, length: 4, lineStyle: tickStyle }, axisLabel: { show: false } });
    yAxis.push({ gridIndex: gTop, type: "value", min: 0, max: 0.12, interval: 0.02, position: "left", axisLine: { show: false }, splitLine: { show: false },
      axisTick: { show: true, length: 10, lineStyle: tickStyle }, minorTick: { show: true, splitNumber: 4, length: 5, lineStyle: tickStyle },
      axisLabel: { formatter: (v: number) => v.toFixed(2), ...labelStyle(18) } });
    yAxis.push({ gridIndex: gTop, type: "value", min: 0, max: 0.12, show: false });

    // --- main (joint PDF) axes
    xAxis.push({ gridIndex: gMain, type: "value", min: 2, max: 24, position: "bottom", axisLine: { show: false }, splitLine: { show: false },
      axisTick: { show: true, customValues: SPEED_MAJOR, length: 10, lineStyle: tickStyle }, axisLabel: { customValues: SPEED_MAJOR, ...labelStyle(21) } });
    xAxis.push({ gridIndex: gMain, type: "value", min: 2, max: 24, interval: 1, position: "bottom", axisLine: { show: false }, splitLine: { show: false },
      axisTick: { show: true, length: 5, lineStyle: tickStyle }, axisLabel: { show: false } });
    yAxis.push({ gridIndex: gMain, type: "value", min: 25, max: 75, position: "left", axisLine: { show: false }, splitLine: { show: false },
      axisTick: { show: true, customValues: LAT_MAJOR, length: 10, lineStyle: tickStyle }, axisLabel: { customValues: LAT_MAJOR, ...labelStyle(21) } });
    yAxis.push({ gridIndex: gMain, type: "value", min: 25, max: 75, position: "left", axisLine: { show: false }, splitLine: { show: false },
      axisTick: { show: true, customValues: LAT_MINOR_MAIN, length: 5, lineStyle: tickStyle }, axisLabel: { show: false } });

    // --- right (latitude PDF) axes
    xAxis.push({ gridIndex: gRight, type: "value", min: 0, max: 0.08, interval: 0.02, position: "bottom", axisLine: { show: false }, splitLine: { show: false },
      axisTick: { show: true, length: 10, lineStyle: tickStyle }, minorTick: { show: true, splitNumber: 4, length: 5, lineStyle: tickStyle },
      axisLabel: { formatter: (v: number) => v.toFixed(2), ...labelStyle(14) } });
    xAxis.push({ gridIndex: gRight, type: "value", min: 0, max: 0.08, show: false });
    yAxis.push({ gridIndex: gRight, type: "value", min: 25, max: 75, position: "left", axisLine: { show: false }, splitLine: { show: false },
      axisTick: { show: true, customValues: LAT_MAJOR, length: 10, lineStyle: tickStyle },
      axisLabel: { customValues: LAT_MAJOR, formatter: (v: number) => v + "N", ...labelStyle(19) } });
    yAxis.push({ gridIndex: gRight, type: "value", min: 25, max: 75, position: "left", axisLine: { show: false }, splitLine: { show: false },
      axisTick: { show: true, customValues: LAT_MINOR_SIDE, length: 6, lineStyle: tickStyle }, axisLabel: { show: false } });

    // --- grid lines
    series.push(gridLines(gTop, [2, 0], SPEED_GRID, PDF_GRID));
    series.push(gridLines(gMain, [2, 25], SPEED_GRID, LAT_MAJOR));
    series.push(gridLines(gRight, [0, 25], LATPDF_GRID, LAT_MAJOR));

    // --- top PDFs
    p.topMem.forEach((m) => series.push(line(gTop, SPEED.map((s, i) => [s, m[i]]), CYAN, 1, 3)));
    series.push(line(gTop, SPEED.map((s, i) => [s, p.topMean[i]]), BLUE, 2.5, 4));
    series.push(line(gTop, SPEED.map((s, i) => [s, p.topRed[i]]), RED, 2.5, 5));

    // --- right PDFs
    p.rMem.forEach((m) => series.push(line(gRight, LATM.map((l, i) => [m[i], l]), CYAN, 1, 3)));
    series.push(line(gRight, LAT.map((l, i) => [p.rMean[i], l]), BLUE, 2.5, 4));
    series.push(line(gRight, LAT.map((l, i) => [p.rRed[i], l]), RED, 2.5, 5));

    // --- contours
    p.red.forEach((c) => series.push(line(gMain, c, RED, 1.4, 4)));
    p.blue.forEach((c) => series.push(line(gMain, c, BLUE, 1.3, 5, [4, 3])));

    // --- texts
    graphic.push({ type: "text", x: p.lx, y: p.ly, silent: true,
      style: { text: OBS_LABELS[pi], fill: RED, font: `18.5px ${FONT}`, align: "center", verticalAlign: "middle", textAlign: "center", textVerticalAlign: "middle" } });
    graphic.push({ type: "text", x: p.lx, y: p.ly + 36, silent: true,
      style: { text: MODEL_LABELS[pi], fill: BLUE, font: `18.5px ${FONT}`, align: "center", verticalAlign: "middle", textAlign: "center", textVerticalAlign: "middle" } });
    graphic.push({ type: "text", x: 284 + p.dx, y: 689 + p.dy, silent: true,
      style: { text: "m/s", fill: "#000", font: `17px ${FONT}`, align: "center", verticalAlign: "middle", textAlign: "center", textVerticalAlign: "middle" } });
    graphic.push({ type: "text", x: 18 + p.dx, y: 408 + p.dy, rotation: Math.PI / 2, silent: true,
      style: { text: "Lat", fill: "#000", font: `17px ${FONT}`, align: "center", verticalAlign: "middle", textAlign: "center", textVerticalAlign: "middle" } });
  });

  return { animation: false, backgroundColor: "#ffffff", grid, xAxis, yAxis, series, graphic };
}

export default function App() {
  const ref = useRef<HTMLDivElement>(null);
  useEffect(() => {
    if (!ref.current) return;
    const chart = echarts.init(ref.current, null, { renderer: "svg", width: 1407, height: 1387 });
    chart.setOption(buildOption() as any);
    return () => chart.dispose();
  }, []);
  return <div ref={ref} style={{ position: "absolute", left: 0, top: 0, width: 1407, height: 1387, background: "#fff" }} />;
}
